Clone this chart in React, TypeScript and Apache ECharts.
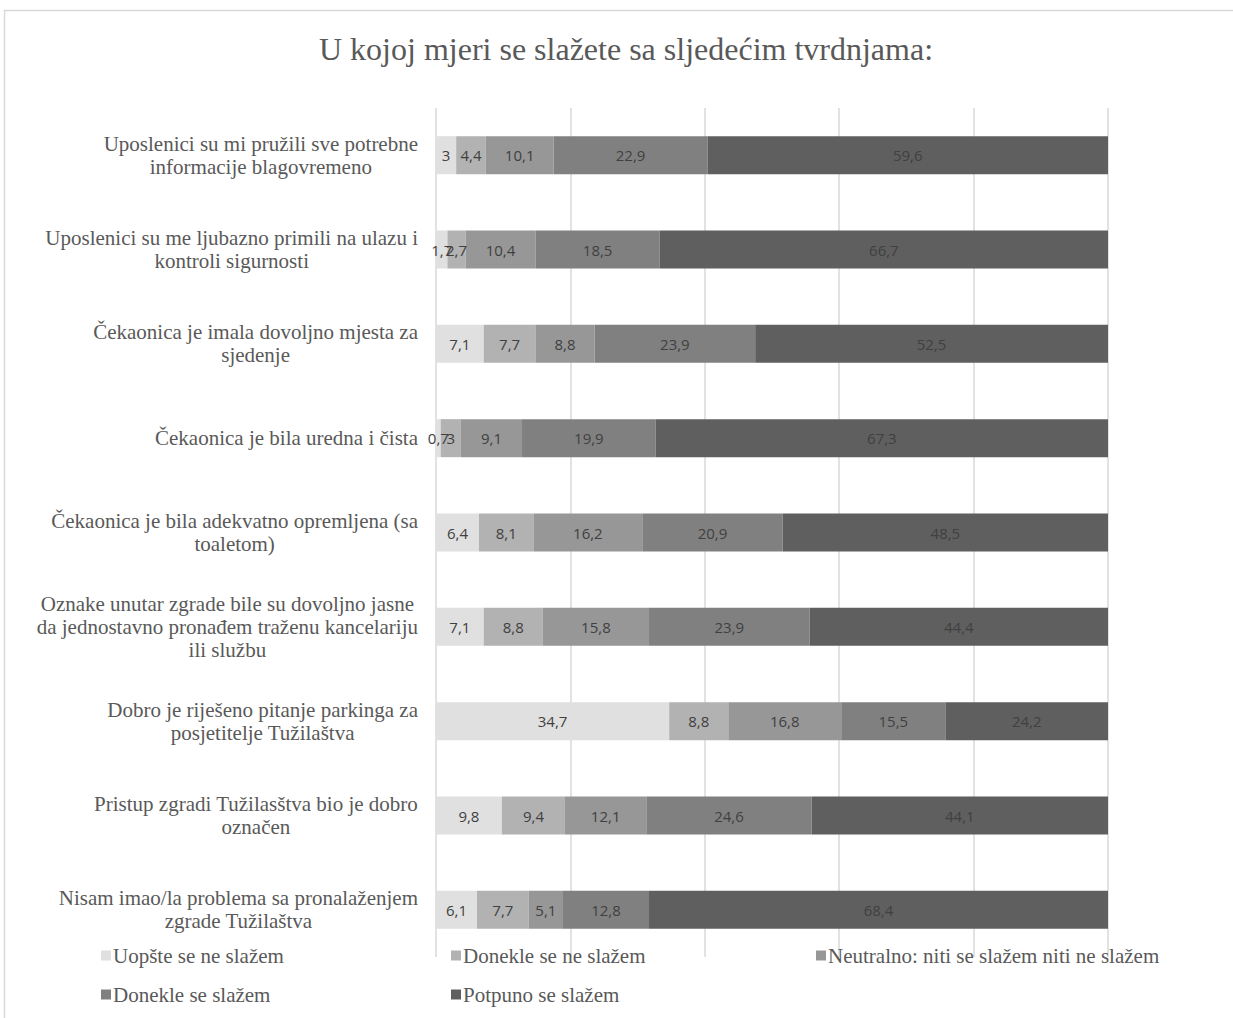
import React, { useEffect, useRef } from "react";
import * as echarts from "echarts";

const categories = [
  "Uposlenici su mi pružili sve potrebne\ninformacije blagovremeno",
  "Uposlenici su me ljubazno primili na ulazu i\nkontroli sigurnosti",
  "Čekaonica je imala dovoljno mjesta za\nsjedenje",
  "Čekaonica je bila uredna i čista",
  "Čekaonica je bila adekvatno opremljena (sa\ntoaletom)",
  "Oznake unutar zgrade bile su dovoljno jasne\nda jednostavno pronađem traženu kancelariju\nili službu",
  "Dobro je riješeno pitanje parkinga za\nposjetitelje Tužilaštva",
  "Pristup zgradi Tužilasštva bio je dobro\noznačen",
  "Nisam imao/la problema sa pronalaženjem\nzgrade Tužilaštva",
];

const seriesNames = [
  "Uopšte se ne slažem",
  "Donekle se ne slažem",
  "Neutralno: niti se slažem niti ne slažem",
  "Donekle se slažem",
  "Potpuno se slažem",
];

const uopsteNe = [3, 1.7, 7.1, 0.7, 6.4, 7.1, 34.7, 9.8, 6.1];
const donekleNe = [4.4, 2.7, 7.7, 3, 8.1, 8.8, 8.8, 9.4, 7.7];
const neutralno = [10.1, 10.4, 8.8, 9.1, 16.2, 15.8, 16.8, 12.1, 5.1];
const donekleDa = [22.9, 18.5, 23.9, 19.9, 20.9, 23.9, 15.5, 24.6, 12.8];
const potpuno = [59.6, 66.7, 52.5, 67.3, 48.5, 44.4, 24.2, 44.1, 68.4];

const seriesValues = [uopsteNe, donekleNe, neutralno, donekleDa, potpuno];
const colors = ["#e0e0e0", "#b2b2b2", "#979797", "#808080", "#5f5f5f"];

const legendPos = [
  { left: 96, top: 940 },
  { left: 446, top: 940 },
  { left: 811, top: 940 },
  { left: 96, top: 979 },
  { left: 446, top: 979 },
];

const serif = "'Liberation Serif', 'DejaVu Serif', serif";
const sans = "'Open Sans', 'Noto Sans', sans-serif";

export default function App() {
  const ref = useRef<HTMLDivElement>(null);
  useEffect(() => {
    if (!ref.current) return;
    const chart = echarts.init(ref.current, null, { renderer: "svg" });
    const option: any = {
      animation: false,
      backgroundColor: "#ffffff",
      title: {
        text: "U kojoj mjeri se slažete sa sljedećim tvrdnjama:",
        left: 314,
        top: 28,
        textStyle: {
          fontFamily: serif,
          fontSize: 32,
          fontWeight: "normal",
          color: "#595959",
        },
      },
      graphic: [
        {
          type: "rect",
          shape: { x: 4.5, y: 10.5, width: 1260, height: 1040 },
          style: { fill: "none", stroke: "#d9d9d9", lineWidth: 1.5 },
          silent: true,
          z: -10,
        },
      ],
      legend: seriesNames.map((n, i) => ({
        data: [n],
        left: legendPos[i].left,
        top: legendPos[i].top,
        icon: "rect",
        itemWidth: 10,
        itemHeight: 10,
        itemGap: 5,
        selectedMode: false,
        textStyle: { fontFamily: serif, fontSize: 21, color: "#595959", padding: [0, 0, 0, -3] },
      })),
      grid: { left: 436, right: 125, top: 108, bottom: 61, containLabel: false },
      xAxis: {
        type: "value",
        min: 0,
        max: 100,
        interval: 20,
        axisLabel: { show: false },
        axisLine: { show: false },
        axisTick: { show: false },
        splitLine: { lineStyle: { color: "#d9d9d9", width: 1.5 } },
      },
      yAxis: {
        type: "category",
        inverse: true,
        data: categories,
        axisLine: { show: false },
        axisTick: { show: false },
        axisLabel: {
          margin: 18,
          align: "right",
          formatter: (v: string) =>
            v
              .split("\n")
              .map((l) => `{c|${l}}`)
              .join("\n"),
          rich: {
            c: {
              align: "center",
              fontFamily: serif,
              fontSize: 21,
              lineHeight: 23,
              color: "#595959",
            },
          },
        },
      },
      series: seriesNames.map((n, i) => ({
        name: n,
        type: "bar",
        stack: "total",
        barWidth: 38,
        data: seriesValues[i],
        itemStyle: { color: colors[i] },
        label: {
          show: true,
          position: "inside",
          fontFamily: sans,
          fontSize: 15,
          color: "#404040",
          formatter: (p: any) => String(p.value).replace(".", ","),
        },
      })),
    };
    chart.setOption(option);
    return () => chart.dispose();
  }, []);
  return (
    <div
      ref={ref}
      style={{ position: "fixed", left: 0, top: 0, width: 1233, height: 1018 }}
    />
  );
}
